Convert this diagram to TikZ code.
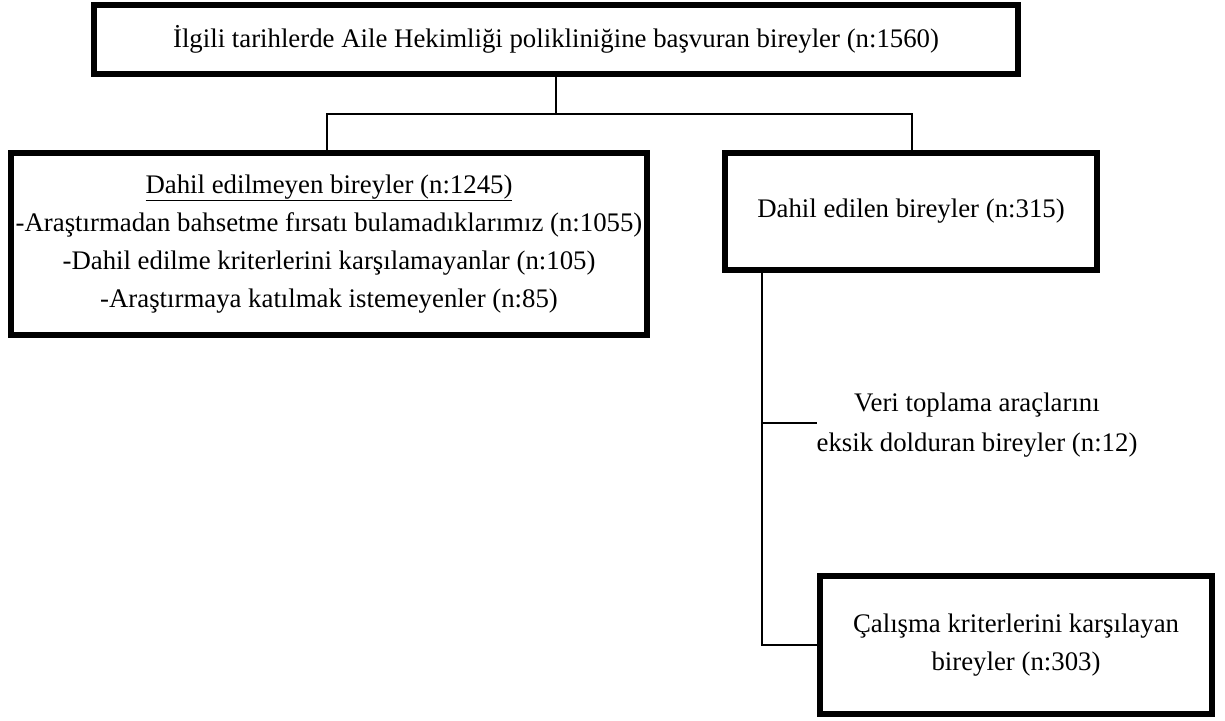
\documentclass[tikz,border=0pt]{standalone}
\usepackage{fontspec}
\setmainfont{Liberation Serif}
\begin{document}
\begin{tikzpicture}[x=1pt,y=-1pt,
  box/.style={draw=black, line width=6pt, fill=white, inner sep=0pt, align=center,
    font=\fontsize{26.8}{38}\selectfont},
  plain/.style={inner sep=0pt, align=center, font=\fontsize{26.8}{40}\selectfont},
  conn/.style={draw=black, line width=1.6pt}]
\useasboundingbox (0,0) rectangle (1225,720);
\fill[white] (0,0) rectangle (1225,720);

\node[box, minimum width=924pt, minimum height=69pt] (top) at (556,39)
  {İlgili tarihlerde Aile Hekimliği polikliniğine başvuran bireyler (n:1560)};
\node[box, minimum width=636pt, minimum height=182pt] (excl) at (329,244)
  {\underline{Dahil edilmeyen bireyler (n:1245)}\\
   -Araştırmadan bahsetme fırsatı bulamadıklarımız (n:1055)\\
   -Dahil edilme kriterlerini karşılamayanlar (n:105)\\
   -Araştırmaya katılmak istemeyenler (n:85)};
\node[box, minimum width=372pt, minimum height=117pt] (incl) at (911,211.5)
  {Dahil edilen bireyler (n:315)};
\node[plain] (veri) at (977,425)
  {Veri toplama araçlarını\\ eksik dolduran bireyler (n:12)};
\node[box, minimum width=392pt, minimum height=138pt] (final) at (1016,645)
  {Çalışma kriterlerini karşılayan\\ bireyler (n:303)};

\coordinate (lj) at (327,114);
\coordinate (rj) at (912,114);
\coordinate (tr) at (762,0);
\coordinate (vb) at (817,423);

\draw[conn] (top.south) -- (top.south |- lj);
\draw[conn] (excl.north -| lj) -- (lj) -- (rj) -- (incl.north -| rj);
\draw[conn] (incl.south -| tr) |- (final.west);
\draw[conn] (tr |- vb) -- (vb);
\end{tikzpicture}
\end{document}
